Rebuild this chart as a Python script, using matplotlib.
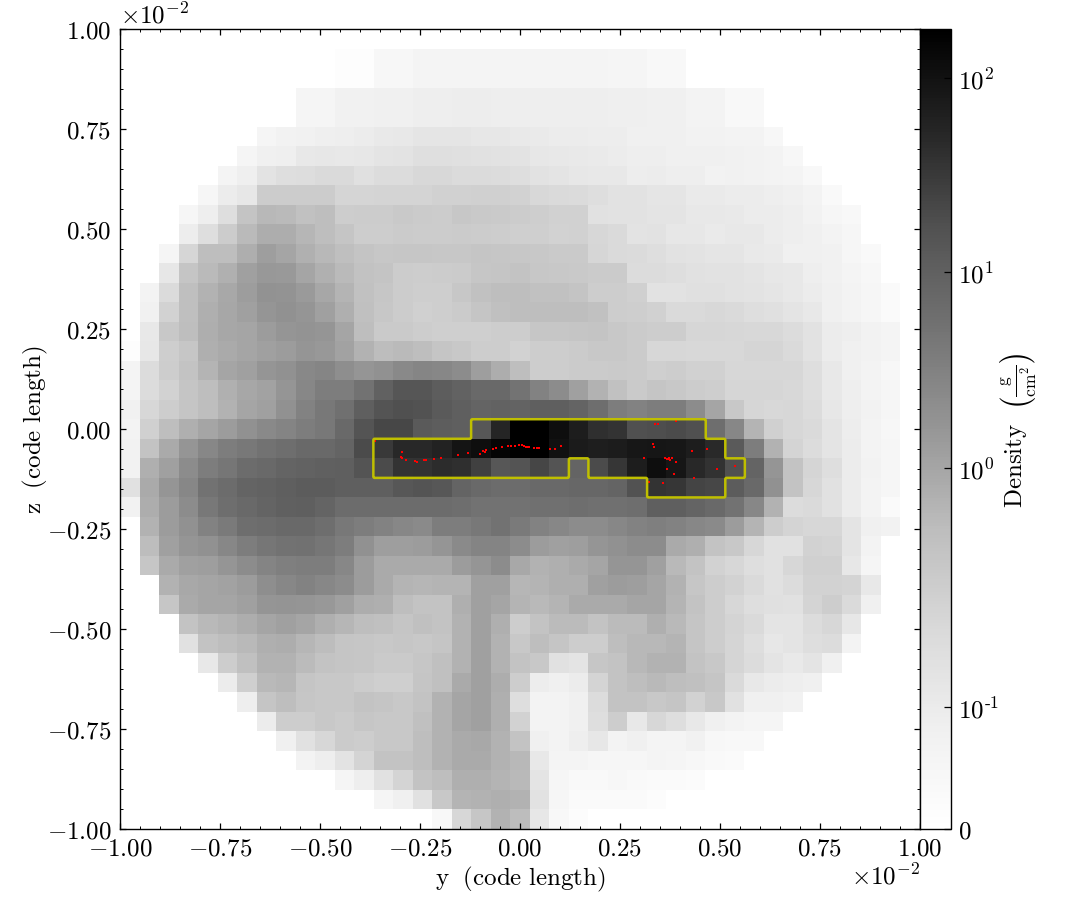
import matplotlib
matplotlib.use("Agg")
import matplotlib.pyplot as plt
import numpy as np
from matplotlib.colors import FuncNorm

plt.rcParams['mathtext.fontset'] = 'cm'
plt.rcParams['font.family'] = 'cmr10'
plt.rcParams['axes.formatter.use_mathtext'] = True
plt.rcParams['axes.unicode_minus'] = False

# first column that has gas in each row, row 0 is the top of the picture
first_col = [0, 11, 11, 9, 9, 7, 6, 5, 4, 3, 3, 2, 2, 1, 1, 1, 0, 0, 0, 0, 0,
             0, 0, 0, 0, 1, 1, 1, 2, 2, 3, 3, 4, 5, 6, 7, 8, 9, 11, 13, 16]

# grey level of each cell
shades = [
    [],
    [253, 253, 247, 247, 244, 244, 244, 244, 244, 244, 244, 244, 244, 244, 245, 245, 248, 248],
    [253, 253, 247, 247, 244, 244, 244, 244, 244, 244, 244, 244, 244, 244, 245, 245, 248, 248],
    [245, 245, 241, 241, 240, 240, 238, 238, 237, 237, 238, 238, 238, 238, 238, 238, 239, 239, 240, 240, 243, 243, 248, 248],
    [245, 245, 241, 241, 240, 240, 238, 238, 237, 237, 238, 238, 238, 238, 238, 238, 239, 239, 240, 240, 243, 243, 248, 248],
    [245, 242, 241, 239, 238, 235, 233, 232, 229, 229, 229, 230, 231, 233, 234, 235, 236, 237, 237, 240, 240, 240, 242, 242, 243, 243, 247],
    [245, 240, 239, 232, 230, 232, 230, 228, 227, 223, 223, 224, 225, 226, 227, 230, 232, 233, 234, 235, 238, 238, 240, 240, 240, 241, 242, 243, 247],
    [244, 239, 227, 222, 221, 218, 218, 224, 220, 220, 216, 216, 219, 219, 220, 222, 226, 228, 230, 232, 232, 237, 236, 238, 238, 242, 241, 242, 243, 244, 248],
    [246, 236, 230, 204, 204, 204, 204, 213, 213, 212, 212, 212, 209, 209, 208, 208, 210, 216, 218, 219, 222, 226, 226, 229, 229, 234, 234, 235, 236, 238, 240, 243, 249],
    [246, 238, 222, 196, 184, 186, 193, 190, 205, 204, 204, 201, 203, 204, 199, 201, 202, 204, 206, 209, 209, 225, 226, 226, 228, 228, 232, 232, 233, 235, 236, 238, 242, 246, 248],
    [237, 222, 204, 186, 172, 172, 182, 190, 197, 205, 205, 203, 204, 204, 203, 204, 205, 207, 207, 210, 209, 215, 217, 227, 226, 231, 230, 234, 232, 232, 235, 238, 240, 243, 246],
    [245, 214, 190, 189, 174, 158, 165, 176, 183, 191, 196, 199, 198, 198, 199, 199, 197, 198, 199, 200, 202, 202, 214, 217, 219, 222, 226, 227, 229, 229, 233, 234, 240, 240, 241, 246, 249],
    [230, 197, 186, 176, 160, 152, 153, 165, 176, 186, 194, 196, 204, 205, 204, 203, 198, 197, 195, 199, 200, 201, 203, 203, 220, 220, 222, 225, 226, 226, 228, 231, 232, 238, 241, 244, 247],
    [243, 219, 191, 178, 168, 157, 146, 147, 154, 167, 180, 193, 198, 204, 206, 206, 199, 193, 190, 190, 193, 193, 196, 205, 205, 208, 226, 226, 224, 224, 226, 227, 229, 232, 236, 240, 243, 246, 250],
    [241, 210, 191, 175, 166, 160, 150, 145, 150, 160, 175, 192, 199, 204, 208, 206, 203, 197, 192, 190, 190, 189, 190, 193, 205, 206, 209, 218, 218, 216, 218, 222, 224, 228, 232, 240, 243, 246, 250],
    [232, 200, 190, 174, 167, 165, 155, 150, 147, 150, 165, 190, 202, 202, 205, 207, 207, 207, 205, 205, 198, 198, 197, 196, 200, 203, 205, 205, 214, 214, 215, 216, 216, 220, 226, 235, 238, 242, 244],
    [253, 230, 206, 198, 175, 170, 165, 160, 155, 150, 152, 162, 178, 188, 186, 190, 197, 200, 205, 205, 210, 205, 205, 203, 200, 200, 203, 215, 215, 216, 216, 216, 213, 213, 217, 226, 235, 240, 242, 244],
    [244, 220, 205, 195, 180, 165, 160, 150, 145, 136, 133, 142, 150, 145, 137, 133, 135, 140, 158, 172, 190, 205, 205, 203, 203, 202, 203, 207, 205, 209, 209, 215, 215, 215, 215, 222, 232, 240, 243, 247],
    [244, 220, 210, 197, 190, 176, 167, 162, 150, 135, 125, 125, 115, 97, 87, 87, 93, 98, 105, 105, 116, 130, 140, 160, 178, 193, 202, 197, 200, 204, 206, 214, 214, 214, 216, 222, 232, 238, 243, 246],
    [241, 215, 205, 197, 190, 178, 165, 160, 145, 130, 120, 112, 95, 85, 80, 83, 90, 95, 100, 98, 99, 95, 95, 100, 110, 125, 130, 125, 125, 140, 165, 200, 214, 216, 215, 220, 230, 238, 242, 246],
    [243, 208, 190, 175, 165, 155, 145, 137, 132, 125, 120, 105, 85, 72, 72, 90, 93, 95, 88, 38, 0, 0, 15, 30, 47, 52, 80, 78, 75, 80, 110, 135, 180, 208, 215, 218, 228, 237, 243, 247],
    [242, 195, 170, 150, 135, 125, 120, 115, 110, 105, 105, 100, 75, 58, 41, 40, 34, 20, 15, 5, 0, 1, 18, 27, 31, 28, 24, 22, 24, 30, 42, 90, 125, 178, 212, 220, 228, 235, 243, 246],
    [242, 175, 160, 140, 125, 118, 108, 105, 100, 98, 96, 95, 85, 75, 52, 50, 45, 48, 65, 88, 85, 70, 85, 100, 75, 55, 30, 15, 22, 40, 50, 80, 100, 150, 195, 213, 222, 235, 242, 246],
    [225, 170, 150, 135, 115, 108, 100, 98, 95, 92, 92, 95, 95, 95, 88, 85, 88, 100, 105, 108, 108, 105, 105, 103, 103, 100, 82, 52, 55, 68, 72, 92, 105, 145, 195, 215, 225, 235, 243, 246],
    [242, 172, 155, 140, 120, 110, 105, 100, 96, 95, 100, 108, 108, 108, 108, 108, 108, 110, 115, 115, 115, 112, 112, 110, 112, 112, 110, 95, 95, 100, 105, 115, 135, 178, 220, 218, 225, 235, 243, 250],
    [178, 155, 145, 130, 122, 110, 108, 105, 105, 110, 120, 125, 130, 135, 138, 125, 125, 120, 115, 122, 130, 135, 140, 140, 135, 130, 128, 130, 135, 138, 155, 180, 205, 212, 215, 215, 228, 240, 242],
    [188, 160, 150, 145, 135, 125, 118, 115, 113, 118, 125, 145, 158, 158, 155, 150, 138, 132, 132, 140, 155, 160, 158, 150, 145, 140, 140, 170, 175, 195, 200, 215, 225, 225, 210, 212, 228, 243],
    [198, 170, 160, 158, 150, 140, 132, 128, 125, 125, 135, 155, 170, 170, 170, 170, 155, 150, 140, 168, 178, 175, 170, 165, 150, 150, 160, 185, 195, 210, 215, 222, 225, 215, 208, 208, 230, 245],
    [178, 168, 165, 162, 155, 142, 135, 130, 135, 140, 155, 170, 180, 182, 180, 180, 160, 160, 182, 180, 175, 175, 160, 155, 158, 165, 178, 198, 205, 210, 218, 225, 220, 210, 210, 212, 232],
    [198, 170, 165, 165, 160, 150, 148, 150, 152, 160, 172, 175, 190, 195, 195, 175, 160, 165, 180, 185, 180, 170, 170, 170, 165, 165, 180, 195, 205, 215, 222, 224, 225, 212, 205, 218, 240],
    [195, 185, 180, 172, 165, 160, 165, 175, 182, 190, 192, 197, 192, 195, 178, 160, 175, 205, 195, 187, 187, 195, 187, 187, 175, 185, 197, 205, 212, 218, 228, 228, 220, 215, 230],
    [225, 195, 190, 185, 175, 172, 182, 188, 197, 198, 200, 198, 200, 197, 178, 160, 178, 200, 190, 197, 205, 205, 190, 183, 183, 180, 197, 205, 213, 222, 230, 228, 222, 220, 243],
    [232, 205, 192, 178, 178, 187, 195, 197, 198, 202, 202, 198, 192, 178, 160, 178, 195, 200, 225, 228, 198, 195, 183, 178, 178, 195, 200, 213, 220, 228, 233, 228, 240],
    [235, 207, 185, 182, 197, 200, 200, 204, 207, 207, 197, 192, 170, 160, 172, 205, 237, 240, 235, 212, 195, 190, 185, 190, 192, 197, 218, 232, 236, 238, 240],
    [238, 197, 190, 198, 200, 200, 195, 197, 200, 195, 178, 165, 160, 175, 222, 243, 243, 240, 220, 195, 195, 200, 197, 210, 200, 225, 240, 240, 242],
    [236, 205, 205, 200, 203, 198, 200, 200, 192, 178, 165, 160, 175, 210, 243, 243, 240, 222, 205, 232, 215, 222, 232, 240, 243, 245, 245],
    [240, 225, 215, 203, 205, 200, 200, 190, 178, 170, 168, 178, 195, 240, 243, 238, 230, 243, 240, 244, 244, 241, 247, 248, 248],
    [243, 238, 227, 212, 195, 195, 190, 178, 170, 170, 178, 184, 232, 244, 244, 246, 246, 246, 244, 245, 247, 249, 250],
    [245, 238, 225, 212, 195, 190, 175, 175, 180, 185, 228, 246, 249, 249, 247, 249, 250, 250, 251],
    [245, 240, 225, 200, 180, 178, 175, 178, 226, 246, 250, 250, 250, 250, 252],
    [248, 215, 198, 178, 188, 230, 248, 252],
]

# cells inside the yellow contour: row, first column, last column
region_spans = [(20, 18, 29), (21, 13, 30), (22, 13, 22), (22, 24, 31), (23, 27, 30)]

# red particles, in units of 1e-2 code length
particle_y = [-.3625, -.295, -.297, -.294, -.285, -.262, -.257, -.239, -.235, -.215, -.198, -.155,
              -.129, -.099, -.093, -.087, -.085, -.068, -.061, -.046, -.030, -.022, -.0125, -.003,
              .004, .010, .014, .018, .023, .036, .042, .0475, .076, .088, .102,
              .3375, .345, .391, .333, .334, .431, .467, .311, .363, .367, .371, .375, .3725, .379,
              .39, .3685, .386, .4917, .5367, .322, .3575, .434]
particle_z = [-.031, -.058, -.071, -.073, -.077, -.080, -.083, -.078, -.078, -.076, -.073, -.066,
              -.061, -.062, -.054, -.058, -.053, -.049, -.048, -.045, -.043, -.043, -.042, -.041,
              -.041, -.042, -.044, -.045, -.045, -.048, -.048, -.048, -.051, -.051, -.043,
              .0125, .0125, .019, -.038, -.046, -.056, -.049, -.073, -.072, -.076, -.076, -.077, -.073, -.072,
              -.083, -.101, -.112, -.100, -.092, -.132, -.136, -.123]

# colorbar: value against height on the bar
bar_values = [0, 0.1, 1, 10, 100, 178]
bar_heights = [0, 0.1525, 0.451, 0.696, 0.939, 1]
bar_labels = ['$0$', r'$10^{\text{-}1}$', '$10^{0}$', '$10^{1}$', '$10^{2}$']
ticks = [-1, -0.75, -0.5, -0.25, 0, 0.25, 0.5, 0.75, 1]
bar_exps = [-2, -1, 0, 1, 2, np.log10(178)]


def to_height(v):
    v = np.asarray(v, dtype=float)
    t = np.where(v < 0.1, 10 * v - 2, np.log10(np.maximum(v, 0.1)))
    return np.interp(t, bar_exps, bar_heights)


def from_height(h):
    t = np.interp(h, bar_heights, bar_exps)
    return np.where(t < -1, (t + 2) / 10, 10.0 ** t)


n = 41
grid = np.full((n, n), 255.0)
for r, row in enumerate(shades):
    grid[r, first_col[r]:first_col[r] + len(row)] = row

# grey level back to a density through the colormap and the bar
cmap = plt.get_cmap('Greys')
pos = np.linspace(0, 1, 256)
grey = cmap(pos)[:, 0] * 255
density = from_height(np.interp(grid, grey[::-1], pos[::-1]))
norm = FuncNorm((to_height, from_height), vmin=0, vmax=178)

fig = plt.figure(figsize=(10.85, 9.2), dpi=100)
ax = fig.add_axes([120 / 1085, 90 / 920, 800 / 1085, 800 / 920])
cax = fig.add_axes([920 / 1085, 90 / 920, 31 / 1085, 800 / 920])

y_edges = np.linspace(-1, 1, n + 1)
z_edges = np.linspace(1, -1, n + 1)
mesh = ax.pcolormesh(y_edges, z_edges, density, cmap=cmap, norm=norm, shading='flat')

# contour drawn on a finer copy of the mask so it stays on the cell edges
mask = np.zeros((n, n))
for r, c0, c1 in region_spans:
    mask[r, c0:c1 + 1] = 1
fine = 12
mask_fine = np.kron(mask, np.ones((fine, fine)))
yc = np.linspace(-1, 1, n * fine)
zc = np.linspace(1, -1, n * fine)
ax.contour(yc, zc, mask_fine, levels=[0.5], colors='y', linewidths=1.8)

ax.scatter(particle_y, particle_z, s=1.2, c='red', marker='s', linewidths=0)

ax.set_xlim(-1, 1)
ax.set_ylim(-1, 1)
ax.set_xticks(ticks)
ax.set_yticks(ticks)
ax.set_xticklabels(['$%.2f$' % t for t in ticks], fontsize=18)
ax.set_yticklabels(['$%.2f$' % t for t in ticks], fontsize=18)
ax.set_xticks(np.arange(-1, 1.001, 0.05), minor=True)
ax.set_yticks(np.arange(-1, 1.001, 0.05), minor=True)
ax.tick_params(which='major', direction='in', top=True, right=True, length=4.5, width=0.9, pad=6)
ax.tick_params(which='minor', direction='in', top=True, right=True, length=2.3, width=0.7)
ax.set_xlabel(r'$\rm{y}\ \ (\rm{code\ length})$', fontsize=18, labelpad=3)
ax.set_ylabel(r'$\rm{z}\ \ (\rm{code\ length})$', fontsize=18, labelpad=-2)
ax.text(0.0, 1.002, r'$\times 10^{-2}$', transform=ax.transAxes, fontsize=18, va='bottom', ha='left')
ax.text(1.0, -0.042, r'$\times 10^{-2}$', transform=ax.transAxes, fontsize=18, va='top', ha='right')

cb = fig.colorbar(mesh, cax=cax)
cb.set_ticks(bar_values[:5], labels=bar_labels)
cb.minorticks_off()
cax.tick_params(direction='in', right=True, length=5, width=0.9, labelsize=18, pad=5)
cb.set_label(r'$\rm{Density}\ \ \left(\frac{\rm{g}}{\rm{cm}^{2}}\right)$', fontsize=18, labelpad=-1)

for spine in list(ax.spines.values()) + list(cax.spines.values()):
    spine.set_linewidth(1.0)

fig.savefig('out.png', dpi=100)
